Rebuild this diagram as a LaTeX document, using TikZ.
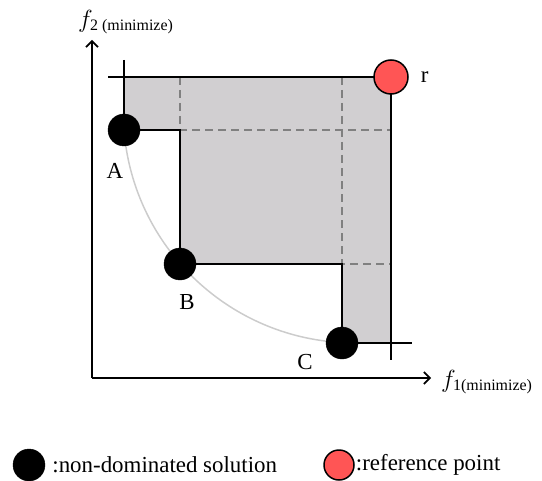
\documentclass[tikz,border=0pt]{standalone}
\usepackage{amsmath}
\usepackage{fontspec}
\setmainfont{Liberation Serif}
\usetikzlibrary{positioning, arrows.meta}
\definecolor{regiongray}{RGB}{209,207,209}
\definecolor{refred}{RGB}{255,85,85}
\newcommand{\subsz}{\fontsize{16}{18}\selectfont}
\tikzset{
  sol/.style={circle, fill=black, draw=black, minimum size=32bp, inner sep=0pt},
  refpt/.style={circle, fill=refred, draw=black, line width=1.5bp, minimum size=34bp, inner sep=0pt},
  axis/.style={-{Straight Barb[length=6bp, width=12bp]}, line width=1.6bp},
  edge/.style={line width=1.8bp},
  grid/.style={gray, line width=1.5bp, dash pattern=on 8bp off 5bp},
  front/.style={black!20, line width=1.5bp},
  lbl/.style={font=\fontsize{23}{26}\selectfont, inner sep=0pt},
  axlbl/.style={font=\fontsize{29}{32}\selectfont, inner sep=0pt, anchor=west}
}
\begin{document}
\begin{tikzpicture}[x=1bp, y=-1bp]
\useasboundingbox (0,0) rectangle (542,481);
% axes
\coordinate (o) at (92,378);
\coordinate (xend) at (431,378);
\coordinate (yend) at (92,40);
\draw[axis] (o) -- (xend);
\draw[axis] (o) -- (yend);
\node[axlbl] (f1) at (441,382) {$f_{\text{\subsz 1(minimize)}}$};
\node[axlbl] (f2) at (78,22) {$f_{\text{\subsz 2 (minimize)}}$};
% solutions and reference point
\coordinate (pA) at (124,130);
\coordinate (pB) at (180,264);
\coordinate (pC) at (342,343);
\coordinate (pR) at (391,77);
% dominated region
\fill[regiongray] (pA |- pR) -- (pR) -- (pR |- pC) -- (pC) -- (pC |- pB)
  -- (pB) -- (pB |- pA) -- (pA) -- cycle;
\draw[grid] (pB |- pR) -- (pB |- pA) -- (pR |- pA);
\draw[grid] (pC |- pR) -- (pC |- pB) -- (pR |- pB);
% true front
\draw[front] (pA) arc[start angle=175.5, end angle=93, radius=231];
% boundary
\coordinate (topl) at (108,77);
\coordinate (atop) at (124,60);
\coordinate (rbot) at (391,360);
\coordinate (cright) at (412,343);
\draw[edge] (atop) -- (pA) -- (pB |- pA) -- (pB) -- (pC |- pB) -- (pC) -- (cright);
\draw[edge] (topl) -- (pR) -- (rbot);
\node[sol] (A) at (pA) {};
\node[sol] (B) at (pB) {};
\node[sol] (C) at (pC) {};
\node[refpt] (r) at (pR) {};
\node[lbl] (la) at (115,171) {A};
\node[lbl] (lb) at (187,302) {B};
\node[lbl] (lc) at (305,362) {C};
\node[lbl, right=12bp of r] (lr) {r};
% legend
\node[sol] (legsol) at (29,465) {};
\node[lbl, right=7bp of legsol] (legsoltxt) {:non-dominated solution};
\node[refpt, minimum size=30bp] (legref) at (339,465) {};
\node[lbl, right=1bp of legref] (legreftxt) {:reference point};
\end{tikzpicture}
\end{document}
